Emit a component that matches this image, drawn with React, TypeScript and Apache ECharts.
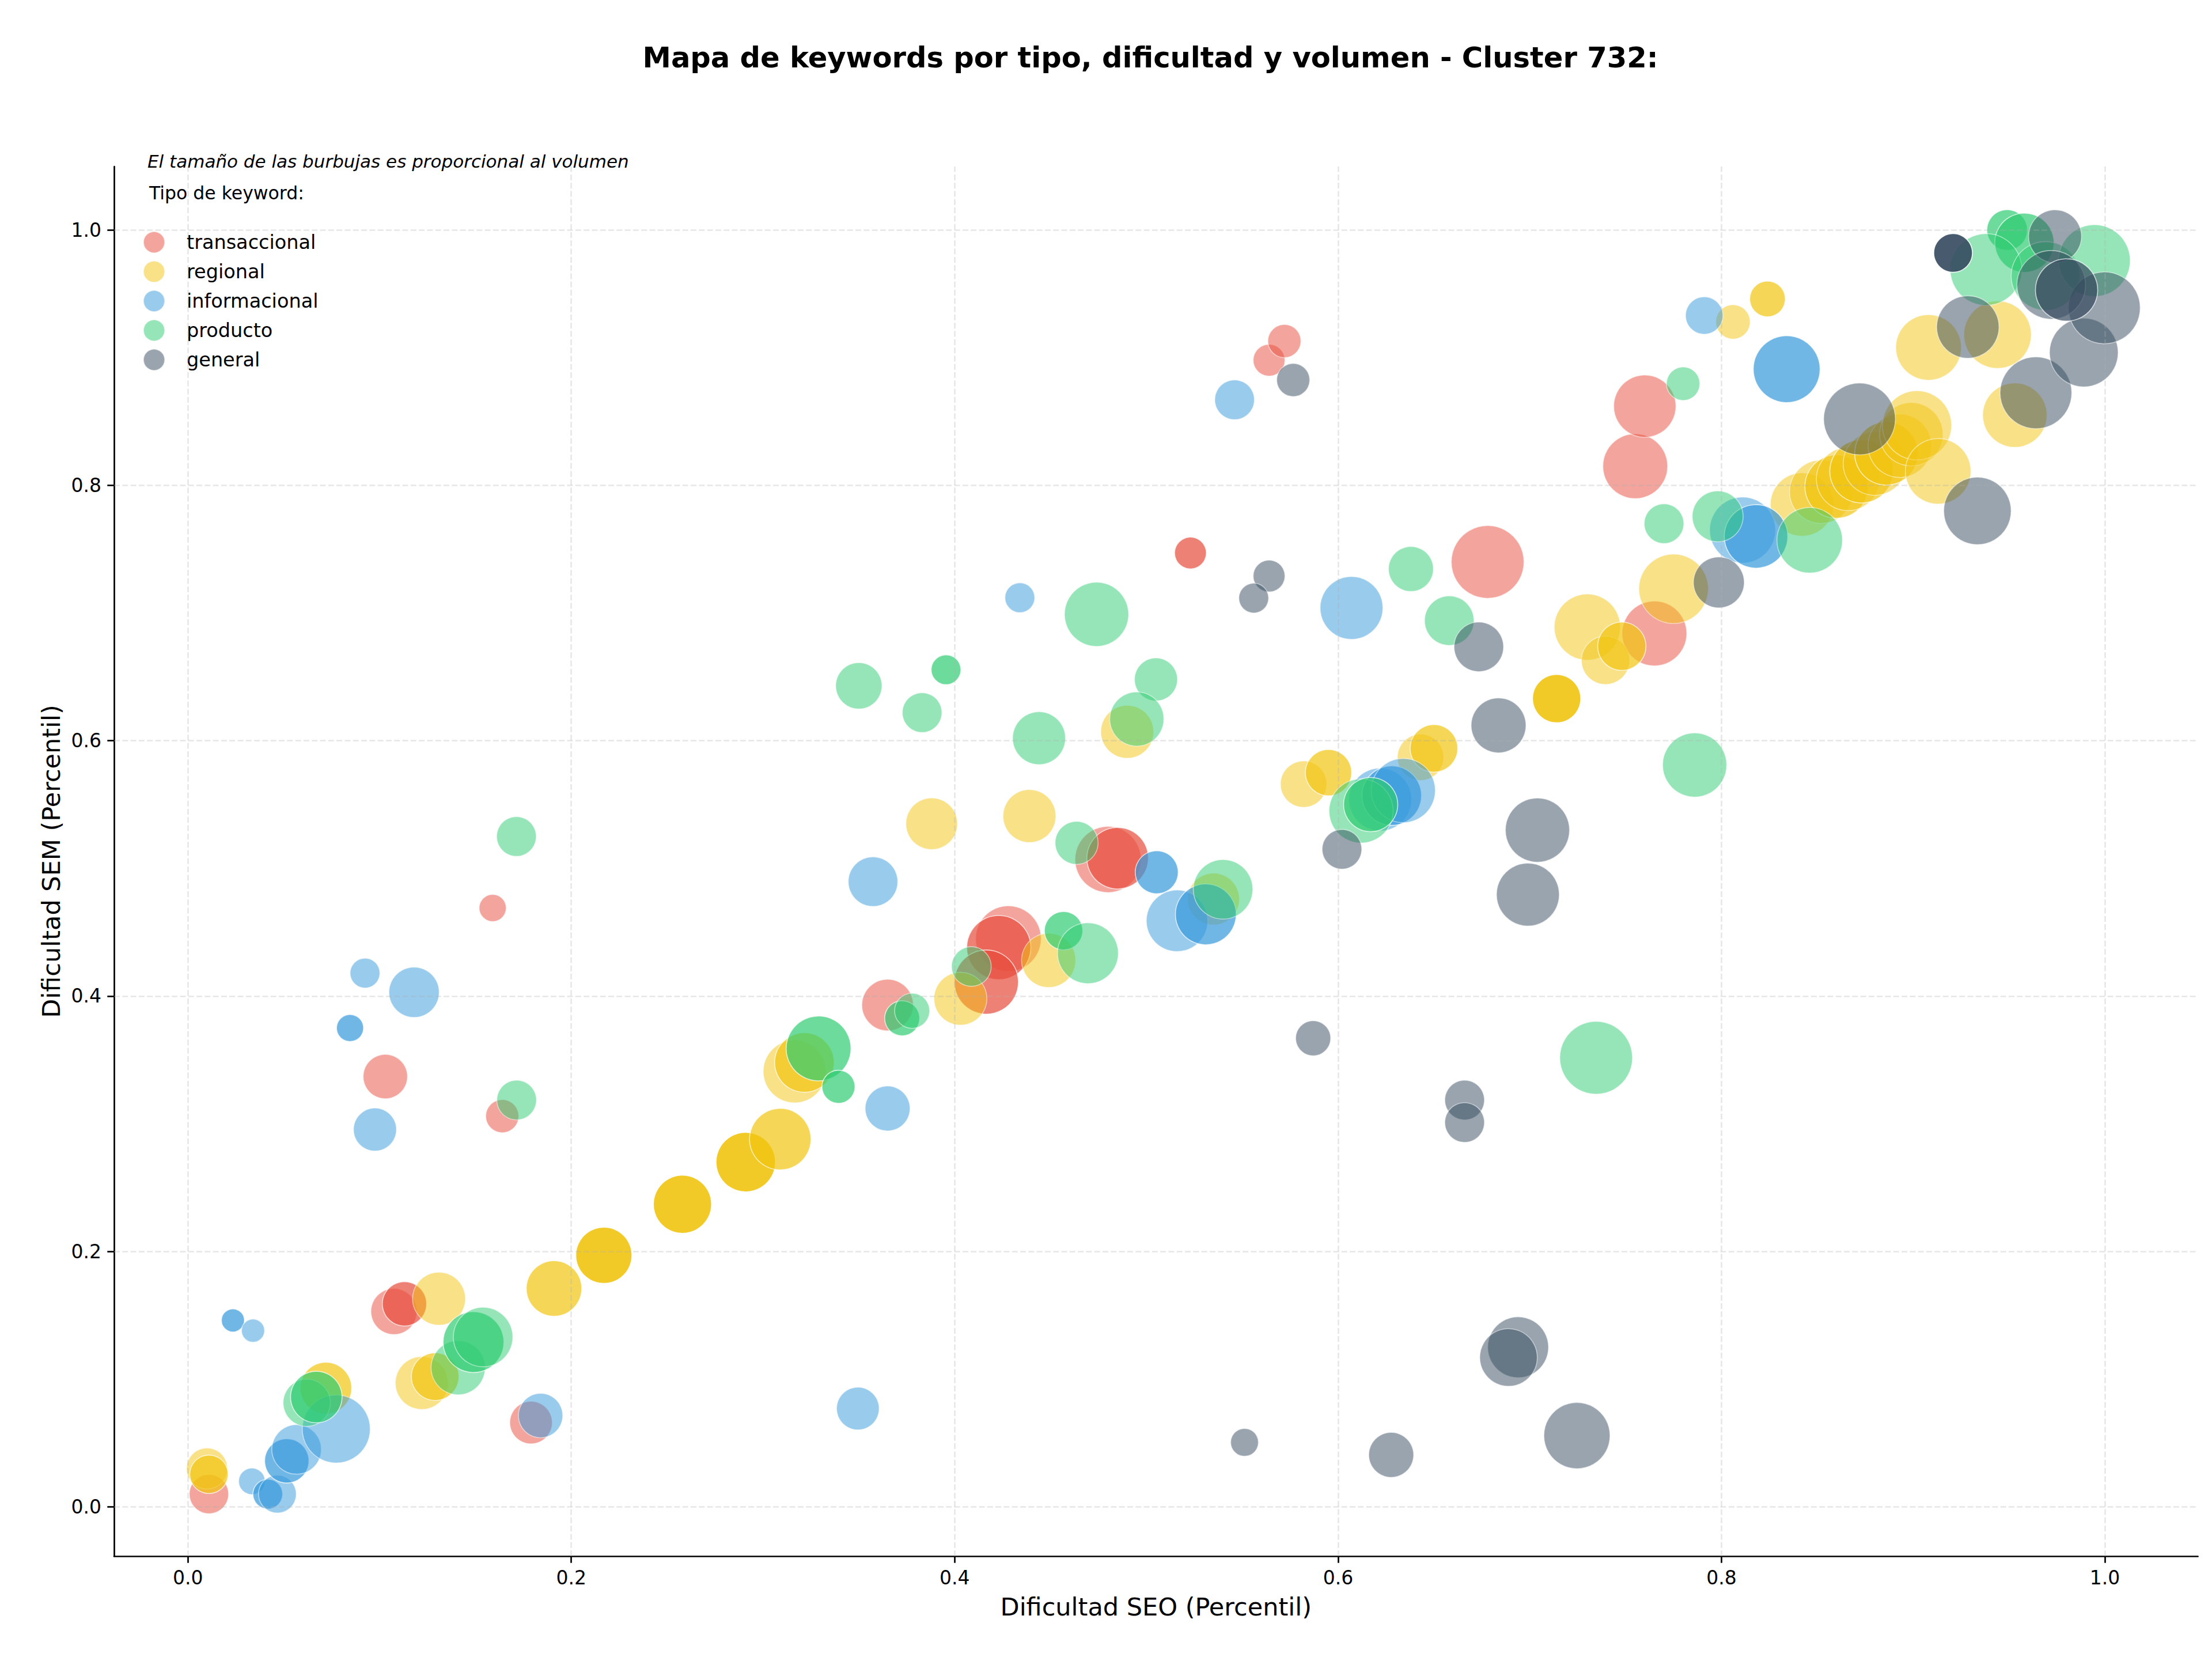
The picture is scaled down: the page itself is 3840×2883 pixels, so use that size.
import React, { useEffect, useRef } from 'react';
import * as echarts from 'echarts';

const W = 3840;
const H = 2883;
const FONT = 'DejaVu Sans';

const CATEGORIAS = ['transaccional', 'regional', 'informacional', 'producto', 'general'];
const COLORES = ['#e74c3c', '#f1c40f', '#3498db', '#2ecc71', '#34495e'];
const TICKS = [0, 0.2, 0.4, 0.6, 0.8, 1.0];

// [dificultad SEO, dificultad SEM, volumen, intensidad (0-2)]
const transaccional = [
  [0.011, 0.010, 290, 0],
  [0.179, 0.066, 340, 0],
  [0.1075, 0.153, 400, 0],
  [0.113, 0.159, 370, 1],
  [0.164, 0.306, 206, 0],
  [0.103, 0.337, 370, 0],
  [0.159, 0.469, 138, 0],
  [0.365, 0.393, 500, 0],
  [0.428, 0.445, 810, 0],
  [0.423, 0.438, 775, 1],
  [0.4165, 0.411, 775, 1],
  [0.480, 0.507, 824, 0],
  [0.485, 0.508, 713, 1],
  [0.523, 0.747, 190, 1],
  [0.564, 0.898, 190, 0],
  [0.572, 0.913, 206, 0],
  [0.678, 0.740, 995, 0],
  [0.765, 0.684, 790, 0],
  [0.755, 0.815, 790, 0],
  [0.760, 0.862, 730, 0],
];

const regional = [
  [0.010, 0.030, 317, 0],
  [0.011, 0.0255, 277, 1],
  [0.072, 0.093, 502, 1],
  [0.122, 0.097, 527, 0],
  [0.129, 0.102, 427, 1],
  [0.131, 0.163, 527, 0],
  [0.191, 0.171, 581, 1],
  [0.217, 0.197, 595, 2],
  [0.258, 0.237, 638, 2],
  [0.291, 0.270, 667, 2],
  [0.309, 0.288, 712, 1],
  [0.3165, 0.341, 743, 0],
  [0.3216, 0.348, 667, 1],
  [0.388, 0.535, 502, 0],
  [0.403, 0.398, 527, 0],
  [0.439, 0.541, 527, 0],
  [0.449, 0.428, 553, 0],
  [0.490, 0.607, 527, 0],
  [0.535, 0.476, 506, 0],
  [0.582, 0.566, 404, 0],
  [0.595, 0.575, 404, 1],
  [0.643, 0.587, 404, 0],
  [0.650, 0.594, 427, 1],
  [0.714, 0.633, 439, 2],
  [0.730, 0.689, 824, 0],
  [0.7395, 0.663, 439, 0],
  [0.748, 0.674, 439, 1],
  [0.775, 0.719, 909, 0],
  [0.806, 0.928, 222, 0],
  [0.824, 0.946, 239, 1],
  [0.842, 0.785, 756, 0],
  [0.852, 0.795, 756, 0],
  [0.860, 0.799, 756, 1],
  [0.866, 0.805, 756, 0],
  [0.873, 0.811, 756, 1],
  [0.880, 0.817, 756, 0],
  [0.886, 0.825, 756, 1],
  [0.893, 0.831, 756, 0],
  [0.899, 0.840, 756, 0],
  [0.902, 0.847, 900, 0],
  [0.913, 0.811, 809, 0],
  [0.908, 0.908, 809, 0],
  [0.944, 0.918, 856, 0],
  [0.953, 0.855, 778, 0],
];

const informacional = [
  [0.0235, 0.146, 100, 1],
  [0.034, 0.138, 100, 0],
  [0.0334, 0.020, 132, 0],
  [0.0417, 0.010, 167, 1],
  [0.0467, 0.010, 268, 0],
  [0.0516, 0.036, 370, 1],
  [0.0567, 0.045, 462, 0],
  [0.0774, 0.061, 870, 0],
  [0.0846, 0.375, 138, 1],
  [0.0924, 0.418, 167, 0],
  [0.118, 0.403, 476, 0],
  [0.0976, 0.2955, 348, 0],
  [0.184, 0.0715, 370, 0],
  [0.3495, 0.077, 342, 0],
  [0.365, 0.312, 380, 0],
  [0.3574, 0.4896, 462, 0],
  [0.434, 0.712, 167, 0],
  [0.546, 0.867, 296, 0],
  [0.5054, 0.497, 348, 1],
  [0.516, 0.459, 712, 0],
  [0.531, 0.464, 697, 1],
  [0.607, 0.704, 743, 0],
  [0.622, 0.554, 743, 0],
  [0.628, 0.557, 667, 1],
  [0.634, 0.561, 775, 0],
  [0.791, 0.933, 264, 0],
  [0.834, 0.891, 841, 1],
  [0.811, 0.765, 820, 0],
  [0.818, 0.760, 760, 1],
];

const producto = [
  [0.062, 0.0815, 420, 0],
  [0.067, 0.086, 500, 1],
  [0.141, 0.109, 553, 0],
  [0.149, 0.129, 697, 1],
  [0.154, 0.133, 667, 0],
  [0.1714, 0.525, 296, 0],
  [0.1715, 0.3186, 296, 0],
  [0.329, 0.359, 791, 1],
  [0.3394, 0.329, 206, 1],
  [0.350, 0.643, 404, 0],
  [0.383, 0.622, 296, 0],
  [0.3955, 0.6556, 167, 1],
  [0.3726, 0.3826, 231, 1],
  [0.3778, 0.3885, 231, 0],
  [0.4087, 0.4232, 296, 0],
  [0.4568, 0.4512, 277, 1],
  [0.4695, 0.4336, 697, 0],
  [0.444, 0.602, 527, 0],
  [0.474, 0.699, 775, 0],
  [0.505, 0.648, 348, 0],
  [0.495, 0.617, 553, 0],
  [0.540, 0.4836, 667, 0],
  [0.4636, 0.520, 348, 0],
  [0.638, 0.7345, 380, 0],
  [0.658, 0.694, 462, 0],
  [0.612, 0.545, 775, 0],
  [0.617, 0.550, 553, 1],
  [0.786, 0.581, 775, 0],
  [0.770, 0.770, 296, 0],
  [0.798, 0.7757, 488, 0],
  [0.780, 0.8796, 210, 0],
  [0.846, 0.757, 809, 0],
  [0.7346, 0.3517, 996, 0],
  [0.949, 1.000, 310, 1],
  [0.958, 0.990, 661, 1],
  [0.938, 0.969, 970, 0],
  [0.969, 0.964, 888, 0],
  [0.9945, 0.976, 970, 0],
];

const general = [
  [0.5512, 0.0505, 145, 0],
  [0.6277, 0.0407, 380, 0],
  [0.7246, 0.0558, 824, 0],
  [0.6939, 0.125, 697, 0],
  [0.6889, 0.117, 624, 0],
  [0.666, 0.3186, 296, 0],
  [0.666, 0.301, 296, 0],
  [0.587, 0.367, 231, 0],
  [0.602, 0.515, 296, 0],
  [0.704, 0.530, 775, 0],
  [0.699, 0.4795, 743, 0],
  [0.6837, 0.612, 567, 0],
  [0.6734, 0.6735, 462, 0],
  [0.564, 0.729, 190, 0],
  [0.556, 0.7117, 167, 0],
  [0.5766, 0.8825, 206, 0],
  [0.7986, 0.724, 488, 0],
  [0.872, 0.852, 970, 0],
  [0.9335, 0.780, 856, 0],
  [0.9285, 0.924, 734, 0],
  [0.964, 0.8725, 970, 0],
  [0.989, 0.904, 888, 0],
  [0.9997, 0.939, 970, 0],
  [0.974, 0.995, 529, 0],
  [0.972, 0.957, 888, 0],
  [0.980, 0.953, 730, 1],
  [0.9208, 0.982, 282, 2],
];

const SERIES_DATA = [transaccional, regional, informacional, producto, general];
const OPACIDADES = [0.5, 0.7, 0.9];

const X_MIN = -0.0385;
const X_MAX = 1.0485;
const Y_MIN = -0.0386;
const Y_MAX = 1.0497;

export default function App() {
  const ref = useRef<HTMLDivElement>(null);
  useEffect(() => {
    document.body.style.margin = '0';
    const chart = echarts.init(ref.current!, null, { renderer: 'svg', width: W, height: H });
    const gridStyle = { color: 'rgba(176,176,176,0.3)', width: 2.67, type: [10, 4.3] as any };
    const scatterSeries = CATEGORIAS.map((name, i) => ({
      name,
      type: 'scatter',
      z: 3,
      data: SERIES_DATA[i].map((d) => ({
        value: [d[0], d[1], d[2]],
        itemStyle: { opacity: OPACIDADES[d[3]] },
      })),
      symbolSize: (v: number[]) => 4 * Math.sqrt(v[2]),
      itemStyle: { color: COLORES[i], opacity: 0.5, borderColor: '#ffffff', borderWidth: 1.6 },
      emphasis: { disabled: true },
    }));
    const gridSeries = {
      type: 'line',
      data: [],
      z: 1,
      silent: true,
      markLine: {
        silent: true,
        symbol: ['none', 'none'],
        label: { show: false },
        lineStyle: gridStyle,
        emphasis: { disabled: true },
        data: [
          ...TICKS.map((t) => ({ xAxis: t })),
          ...TICKS.map((t) => ({ yAxis: t })),
        ],
      },
    };
    const axisCommon = {
      type: 'value' as const,
      axisLine: { show: true, onZero: false, lineStyle: { color: '#000', width: 2.7 } },
      axisTick: { show: true, customValues: TICKS, length: 11.7, lineStyle: { color: '#000', width: 2.7 } },
      splitLine: { show: false },
      nameLocation: 'middle' as const,
      nameTextStyle: { fontSize: 43, fontFamily: FONT, color: '#000' },
    };
    chart.setOption({
      animation: false,
      backgroundColor: '#ffffff',
      grid: { left: 198, right: 24.5, top: 289, bottom: 182, containLabel: false },
      xAxis: {
        ...axisCommon,
        min: X_MIN,
        max: X_MAX,
        name: 'Dificultad SEO (Percentil)',
        nameGap: 66,
        axisLabel: {
          customValues: TICKS,
          formatter: (v: number) => v.toFixed(1),
          fontSize: 33,
          fontFamily: FONT,
          color: '#000',
          margin: 21,
        },
      },
      yAxis: {
        ...axisCommon,
        min: Y_MIN,
        max: Y_MAX,
        name: 'Dificultad SEM (Percentil)',
        nameGap: 88,
        axisLabel: {
          customValues: TICKS,
          formatter: (v: number) => v.toFixed(1),
          fontSize: 33,
          fontFamily: FONT,
          color: '#000',
          margin: 22,
        },
      },
      legend: {
        data: CATEGORIAS,
        orient: 'vertical',
        left: 243,
        top: 396,
        itemWidth: 37,
        itemHeight: 37,
        itemGap: 12,
        icon: 'circle',
        selectedMode: false,
        textStyle: { fontSize: 33.5, lineHeight: 34, fontFamily: FONT, color: '#000', padding: [0, 0, 0, 33] },
      },
      graphic: [
        {
          type: 'text',
          x: 1997,
          y: 100,
          style: {
            text: 'Mapa de keywords por tipo, dificultad y volumen - Cluster 732:',
            fontSize: 49.6,
            fontWeight: 'bold',
            fontFamily: FONT,
            fill: '#000',
            textAlign: 'center',
            textVerticalAlign: 'middle',
          },
        },
        {
          type: 'text',
          x: 256,
          y: 280,
          style: {
            text: 'El tamaño de las burbujas es proporcional al volumen',
            fontSize: 31,
            fontStyle: 'italic',
            fontFamily: FONT,
            fill: '#000',
            textAlign: 'left',
            textVerticalAlign: 'middle',
          },
        },
        {
          type: 'text',
          x: 259,
          y: 335,
          style: {
            text: 'Tipo de keyword:',
            fontSize: 31.5,
            fontFamily: FONT,
            fill: '#000',
            textAlign: 'left',
            textVerticalAlign: 'middle',
          },
        },
      ],
      series: [gridSeries, ...scatterSeries],
    });
    return () => chart.dispose();
  }, []);
  return <div ref={ref} style={{ width: W, height: H }} />;
}
